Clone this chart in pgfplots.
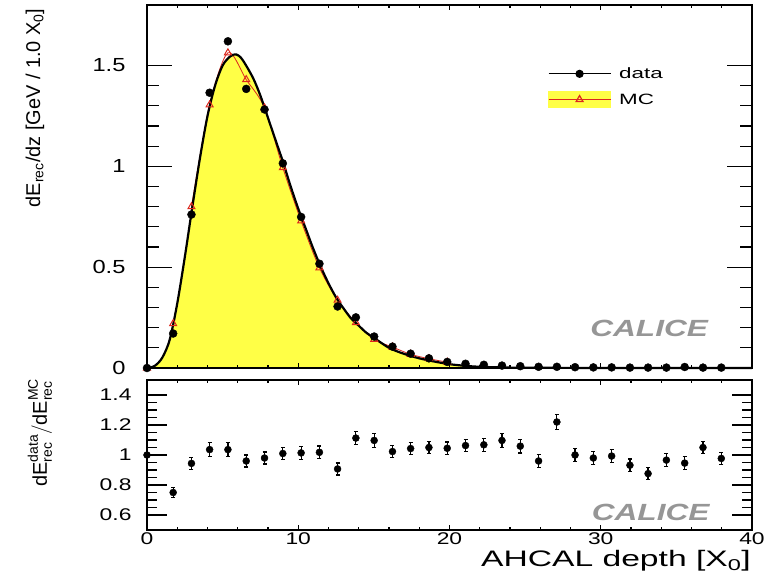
\documentclass[border=0pt]{standalone}
\usepackage{fontspec}
\usepackage{amsmath}
\usepackage{pgfplots}
\usepackage{pgfplotstable}
\pgfplotsset{compat=1.18}
\setmainfont{Liberation Sans}
\newfontfamily\tickA[FakeStretch=1.25]{Liberation Sans}
\newfontfamily\tickB[FakeStretch=1.35]{Liberation Sans}
\newfontfamily\labfont[FakeStretch=1.5]{Liberation Sans}
\newfontfamily\legfont[FakeStretch=1.5]{Liberation Sans}
\newfontfamily\calfont[FakeStretch=1.35]{Liberation Sans}

\definecolor{mcyellow}{RGB}{255,255,70}
\definecolor{mcred}{RGB}{220,40,30}
\definecolor{calgray}{RGB}{150,150,150}

% smooth MC shower profile
\pgfplotstableread{
x y
0 0
0.5 0.01
1.0 0.05
1.5 0.14
2.0 0.32
2.5 0.55
3.0 0.80
3.5 1.04
4.0 1.25
4.5 1.40
5.0 1.50
5.5 1.545
5.9 1.555
6.3 1.53
7.0 1.44
7.5 1.35
8.0 1.24
8.5 1.13
9.0 1.02
9.5 0.90
10.0 0.79
10.5 0.69
11.0 0.59
11.5 0.50
12.0 0.42
12.5 0.35
13.0 0.295
13.5 0.245
14.0 0.21
14.5 0.175
15.0 0.15
16.0 0.10
17.0 0.07
18.0 0.048
19.0 0.032
20.0 0.019
21.0 0.011
22.0 0.006
24.0 0.002
26.0 0.001
30.0 0.0003
40.0 0
}\mccurve

% MC per layer
\pgfplotstableread{
x y
0 0
1.73 0.22
2.94 0.80
4.14 1.305
5.35 1.563
6.56 1.43
7.77 1.29
8.98 0.993
10.19 0.729
11.40 0.497
12.60 0.336
13.81 0.225
15.02 0.142
16.23 0.104
17.43 0.068
18.64 0.046
19.85 0.029
}\mcpts

% data per layer
\pgfplotstableread{
x y
0 0
1.73 0.171
2.94 0.761
4.14 1.365
5.35 1.620
6.56 1.384
7.77 1.282
8.98 1.015
10.19 0.749
11.40 0.517
12.60 0.305
13.81 0.251
15.02 0.156
16.23 0.106
17.43 0.071
18.64 0.048
19.85 0.030
21.06 0.021
22.27 0.016
23.47 0.012
24.68 0.009
25.89 0.006
27.10 0.006
28.30 0.004
29.51 0.003
30.72 0.003
31.93 0.002
33.13 0.002
34.34 0.002
35.55 0.005
36.76 0.002
37.97 0.002
}\datapts

% data / MC ratio
\pgfplotstableread{
x y e
0 1.000 0
1.73 0.750 0.035
2.94 0.944 0.040
4.14 1.036 0.045
5.35 1.036 0.045
6.56 0.960 0.040
7.77 0.980 0.040
8.98 1.010 0.042
10.19 1.014 0.042
11.40 1.018 0.042
12.60 0.907 0.040
13.81 1.113 0.045
15.02 1.097 0.045
16.23 1.023 0.042
17.43 1.043 0.042
18.64 1.050 0.042
19.85 1.045 0.042
21.06 1.063 0.042
22.27 1.068 0.042
23.47 1.097 0.045
24.68 1.059 0.045
25.89 0.960 0.042
27.10 1.220 0.048
28.30 1.000 0.042
29.51 0.980 0.042
30.72 0.993 0.042
31.93 0.932 0.042
33.13 0.876 0.040
34.34 0.966 0.042
35.55 0.946 0.042
36.76 1.050 0.042
37.97 0.977 0.042
}\ratiopts

\pgfplotsset{
  panel/.style={
    scale only axis, width=605bp, xmin=0, xmax=40,
    axis line style={line width=1.6bp},
    every tick/.style={black, line width=1.2bp},
    tick align=inside, xtick pos=both, ytick pos=both,
    /pgf/number format/assume math mode=true,
    clip=false, axis on top,
  },
  xpanel/.style={
    panel, ytick=\empty,
    xtick={0,10,20,30,40}, minor x tick num=4,
    major tick length=5bp, minor tick length=3bp,
  },
}

\begin{document}
\begin{tikzpicture}
\useasboundingbox (-147bp,-210bp) rectangle (626bp,368bp);

% ---------- upper panel: longitudinal profile ----------
\begin{axis}[panel, height=363bp, ymin=0, ymax=1.8,
  at={(0bp,0bp)}, anchor=south west,
  xtick=\empty,
  ytick={0,0.5,1,1.5}, yticklabels={0,0.5,1,1.5},
  minor y tick num=4,
  major tick length=25bp, minor tick length=12bp,
  yticklabel style={font=\tickA\fontsize{19}{19}\selectfont, xshift=-18bp},
  ylabel={dE\textsubscript{rec}/dz [GeV / 1.0 X\textsubscript{0}]},
  ylabel style={font=\fontsize{20}{20}\selectfont,
    at={(axis description cs:-0.185,1)}, anchor=east},
  legend style={at={(axis cs:26.3,1.51)}, anchor=north west,
    draw=none, fill=none, font=\legfont\fontsize{15}{15}\selectfont,
    row sep=9bp, /tikz/every odd column/.append style={column sep=6bp}},
  legend cell align=left,
]
\addplot[draw=none, fill=mcyellow, forget plot] table {\mccurve} \closedcycle;
\addplot[mcred, line width=0.8bp, smooth, restrict x to domain=2.9:20, forget plot] table {\mcpts};
\addplot[black, line width=2.2bp, smooth, forget plot] table {\mccurve};
\addplot[only marks, mark=triangle, mcred, mark size=4bp,
  mark options={line width=1bp}, forget plot] table {\mcpts};
\addplot[only marks, mark=*, black, mark size=4bp, forget plot] table {\datapts};

\addlegendimage{black, line width=1.2bp, mark=*, mark size=3.5bp,
  legend image code/.code={
    \draw[mark repeat=2, mark phase=2] plot coordinates {(0bp,0bp) (31bp,0bp) (62bp,0bp)};}}
\addlegendentry{data}
\addlegendimage{mcred, line width=1.2bp, mark=triangle, mark size=4bp,
  legend image code/.code={
    \fill[mcyellow] (0bp,-8bp) rectangle (62bp,8bp);
    \draw[mark repeat=2, mark phase=2] plot coordinates {(0bp,0bp) (31bp,0bp) (62bp,0bp)};}}
\addlegendentry{MC}

\node[font=\calfont\bfseries\itshape\fontsize{23.5}{23.5}\selectfont, text=calgray]
  at (axis cs:33.2,0.198) {CALICE};
\end{axis}
\begin{axis}[xpanel, height=363bp, ymin=0, ymax=1.8,
  at={(0bp,0bp)}, anchor=south west, xticklabels=\empty]
\end{axis}

% ---------- lower panel: data / MC ----------
\begin{axis}[panel, height=150bp, ymin=0.5, ymax=1.5,
  at={(0bp,-162bp)}, anchor=south west,
  xtick=\empty,
  ytick={0.6,0.8,1,1.2,1.4}, yticklabels={0.6,0.8,1,1.2,1.4},
  minor y tick num=3,
  major tick length=20bp, minor tick length=10bp,
  yticklabel style={font=\tickB\fontsize{17}{17}\selectfont, xshift=-12bp},
  ylabel={$\text{dE}^{\text{data}}_{\text{rec}}/\text{dE}^{\text{MC}}_{\text{rec}}$},
  ylabel style={font=\fontsize{20}{20}\selectfont,
    at={(axis description cs:-0.177,1.033)}, anchor=east},
]
\addplot[only marks, mark=*, black, mark size=3.5bp,
  error bars/.cd, y dir=both, y explicit,
  error bar style={line width=1.2bp},
  error mark options={rotate=90, mark size=2bp, line width=1.2bp}]
  table[x=x, y=y, y error=e] {\ratiopts};
\node[font=\calfont\bfseries\itshape\fontsize{23.5}{23.5}\selectfont, text=calgray]
  at (axis cs:33.3,0.62) {CALICE};
\end{axis}
\begin{axis}[xpanel, height=150bp, ymin=0.5, ymax=1.5,
  at={(0bp,-162bp)}, anchor=south west,
  xticklabels={0,10,20,30,40},
  xticklabel style={font=\tickB\fontsize{17}{17}\selectfont, yshift=1bp},
  xlabel={AHCAL depth [X\textsubscript{0}]},
  xlabel style={font=\labfont\fontsize{22.5}{22.5}\selectfont,
    at={(axis description cs:1,-0.125)}, anchor=north east, inner sep=1bp},
]
\end{axis}
\end{tikzpicture}
\end{document}
